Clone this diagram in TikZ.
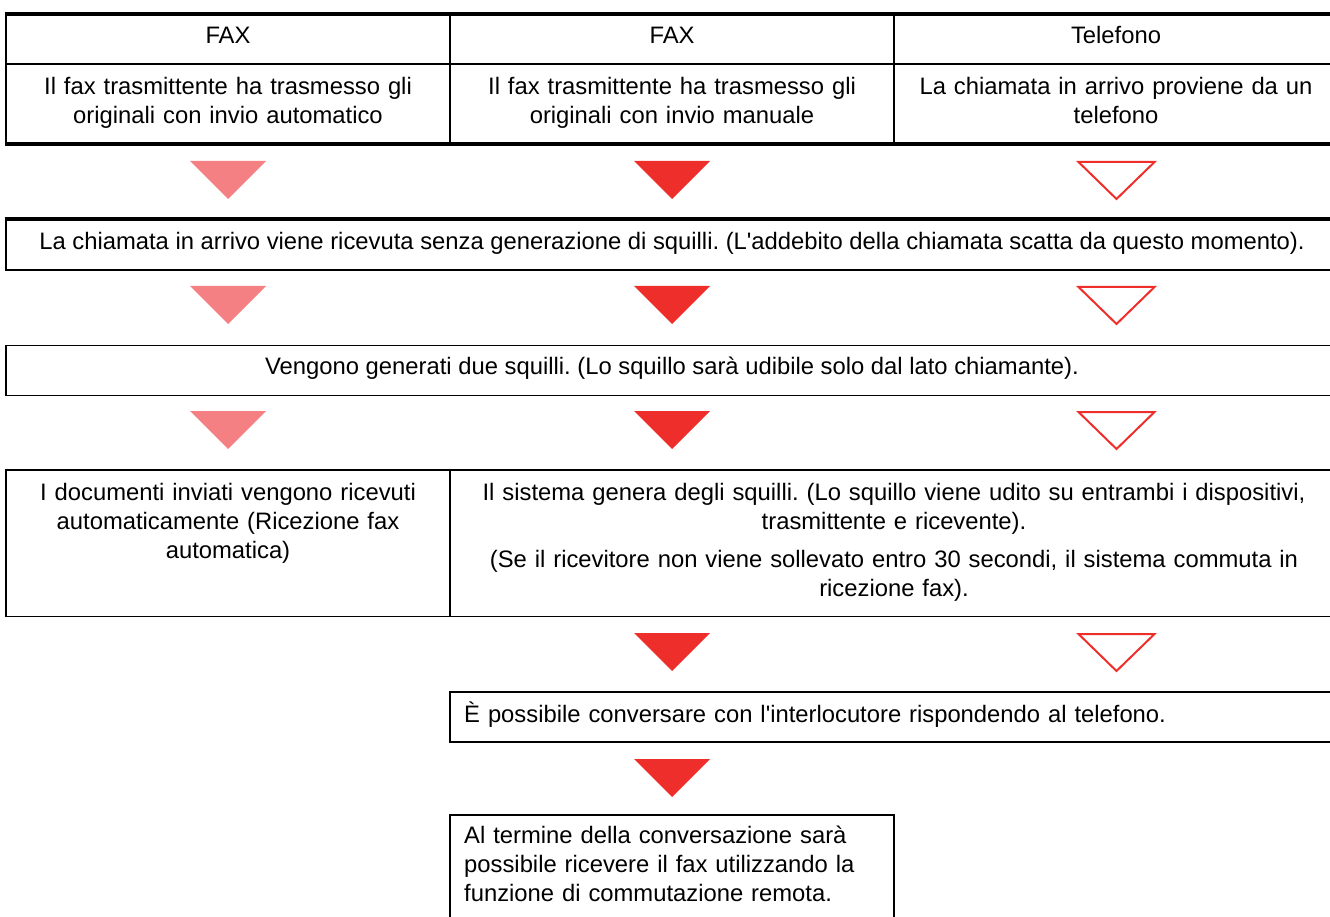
\documentclass[tikz,border=0pt]{standalone}
\usepackage{fontspec}
\setmainfont{Liberation Sans}
\definecolor{pinkt}{RGB}{244,128,131}
\definecolor{redt}{RGB}{238,46,42}
\frenchspacing
\begin{document}
\begin{tikzpicture}[x=1pt,y=-1pt,
  thinline/.style={line width=1.3pt},
  thickline/.style={line width=3.3pt},
  txt/.style={inner sep=0pt, anchor=base, align=center, font=\frenchspacing\fontsize{23.8}{29}\selectfont},
  ltxt/.style={inner sep=0pt, anchor=base west, align=left, text width=425pt, font=\frenchspacing\fontsize{23.8}{29}\selectfont},
  tripink/.style={fill=pinkt},
  trired/.style={fill=redt},
  triout/.style={draw=redt, line width=2pt, line join=miter},
  dtri/.pic={\path[pic actions] (-38,0) -- (38,0) -- (0,38) -- cycle;},
  otri/.pic={\path[pic actions] (-38,1) -- (38,1) -- (0,38) -- cycle;}
]
\useasboundingbox (0,0) rectangle (1330,917);
\clip (0,0) rectangle (1330,917);

% header table
\draw[thinline] (6,14) -- (6,144) (450,14) -- (450,144) (894,14) -- (894,144) (6,64) -- (1340,64);
\draw[thickline] (4.5,14) -- (1340,14) (4.5,144) -- (1340,144);
\node[txt] (h1) at (228,43.3) {FAX};
\node[txt] (h2) at (672,43.3) {FAX};
\node[txt] (h3) at (1116,43.3) {Telefono};
\node[txt, text width=430pt] (d1) at (228,94.5) {Il fax trasmittente ha trasmesso gli\\originali con invio automatico};
\node[txt, text width=430pt] (d2) at (672,94.5) {Il fax trasmittente ha trasmesso gli\\originali con invio manuale};
\node[txt, text width=430pt] (d3) at (1116,94.5) {La chiamata in arrivo proviene da un\\telefono};

% triangles row 1
\pic[tripink] at (228,161) {dtri};
\pic[trired] at (672,161) {dtri};
\pic[triout] at (1116.5,161) {otri};

% box 2
\draw[thinline] (6,219) -- (6,270) -- (1340,270);
\draw[thickline] (4.5,219) -- (1340,219);
\node[txt] (b2) at (672,250) {La chiamata in arrivo viene ricevuta senza generazione di squilli. (L\textquotesingle addebito della chiamata scatta da questo momento).};

% triangles row 2
\pic[tripink] at (228,286) {dtri};
\pic[trired] at (672,286) {dtri};
\pic[triout] at (1116.5,286) {otri};

% box 3
\draw[thinline] (6,345.5) rectangle (1340,395.5);
\node[txt] (b3) at (672,374.5) {Vengono generati due squilli. (Lo squillo sarà udibile solo dal lato chiamante).};

% triangles row 3
\pic[tripink] at (228,411) {dtri};
\pic[trired] at (672,411) {dtri};
\pic[triout] at (1116.5,411) {otri};

% box 4
\draw[thinline] (6,470) rectangle (1340,616.5) (450,470) -- (450,616.5);
\node[txt, text width=430pt] (b4l) at (228,500.5) {I documenti inviati vengono ricevuti\\automaticamente (Ricezione fax\\automatica)};
\node[txt, text width=870pt] (b4r) at (894,500.5) {Il sistema genera degli squilli. (Lo squillo viene udito su entrambi i dispositivi,\\trasmittente e ricevente).\\[9pt](Se il ricevitore non viene sollevato entro 30 secondi, il sistema commuta in\\ricezione fax).};

% triangles row 4
\pic[trired] at (672,633) {dtri};
\pic[triout] at (1116.5,633) {otri};

% box 5
\draw[thinline] (450,692) rectangle (1340,742);
\node[ltxt, text width=860pt] (b5) at (464,722) {È possibile conversare con l\textquotesingle interlocutore rispondendo al telefono.};

% triangle row 5
\pic[trired] at (672,759) {dtri};

% box 6
\draw[thinline] (450,815) rectangle (894,940);
\node[ltxt] (b6) at (464,843.5) {Al termine della conversazione sarà\\possibile ricevere il fax utilizzando la\\funzione di commutazione remota.};
\end{tikzpicture}
\end{document}
